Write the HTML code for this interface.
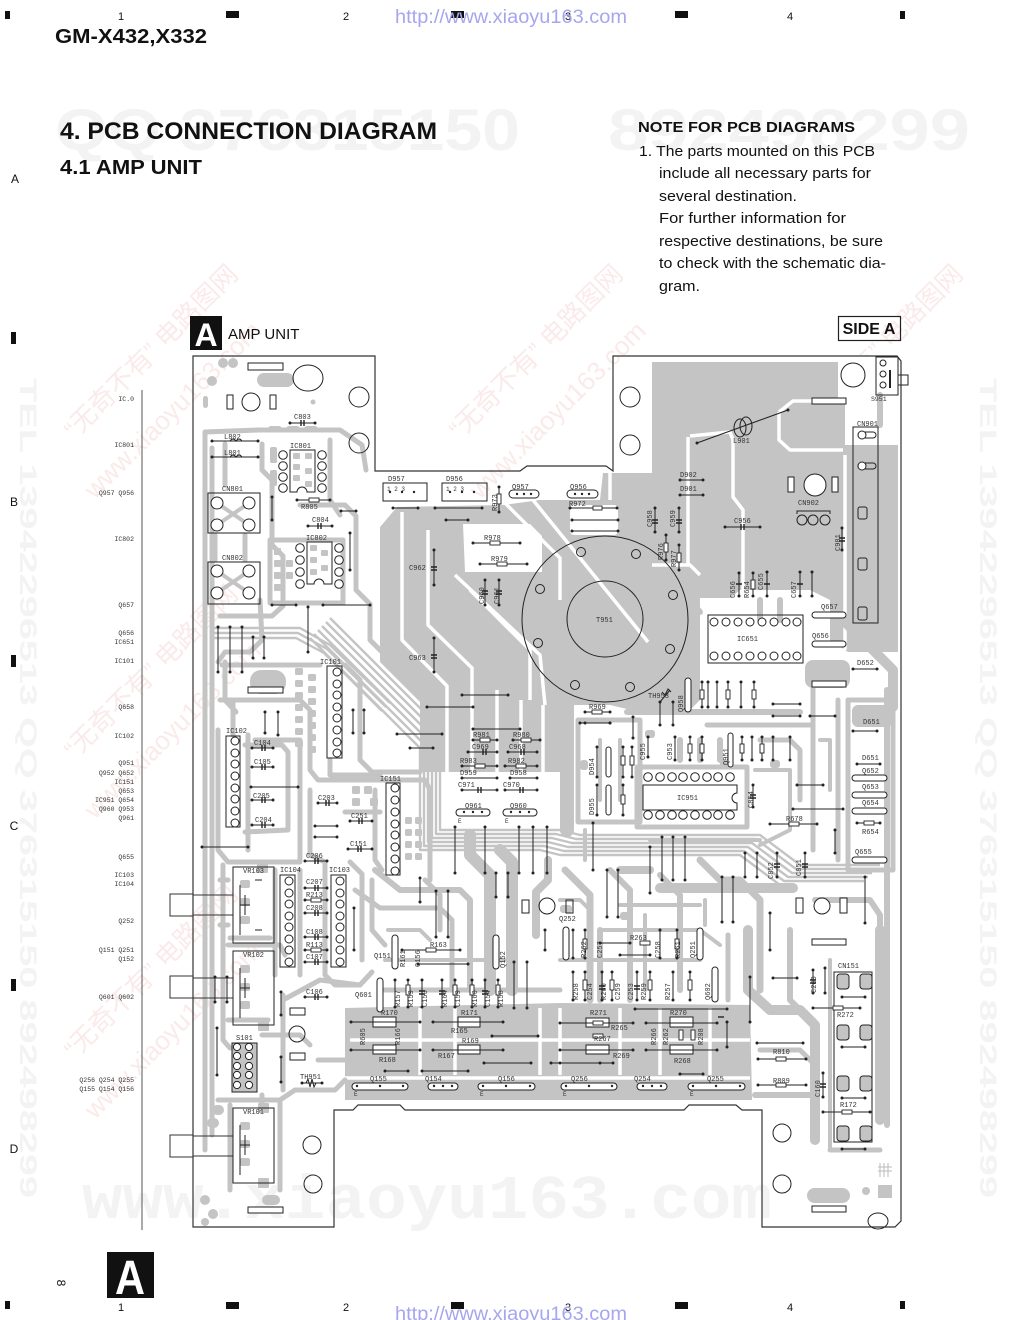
<!DOCTYPE html>
<html><head><meta charset="utf-8"><title>PCB Connection Diagram - AMP UNIT</title>
<style>
html,body{margin:0;padding:0;background:#fff;}
svg{display:block;}
</style></head><body>
<svg width="1020" height="1320" viewBox="0 0 1020 1320" xmlns="http://www.w3.org/2000/svg">
<defs>
<marker id="d" viewBox="0 0 4 4" refX="2" refY="2" markerWidth="4" markerHeight="4" markerUnits="userSpaceOnUse"><circle cx="2" cy="2" r="1.5" fill="#222"/></marker>
</defs>

<!-- faint watermarks -->
<g fill="#f3f3f3" font-family="Liberation Sans, sans-serif" font-weight="bold">
<text x="55" y="150" font-size="58" textLength="465" lengthAdjust="spacingAndGlyphs">QQ 376315150</text>
<text x="608" y="150" font-size="58" textLength="362" lengthAdjust="spacingAndGlyphs">892498299</text>
<text x="82" y="1218" font-size="62" font-family="Liberation Mono, monospace" textLength="690" lengthAdjust="spacingAndGlyphs">www.xiaoyu163.com</text>
<text transform="translate(20,378) rotate(90)" font-size="24" textLength="820" lengthAdjust="spacingAndGlyphs">TEL 13942296513  QQ 376315150  892498299</text>
<text transform="translate(980,378) rotate(90)" font-size="24" textLength="820" lengthAdjust="spacingAndGlyphs">TEL 13942296513  QQ 376315150  892498299</text>
</g>
<g fill="#fbeaea" font-family="Liberation Sans, 'Noto Sans CJK SC', sans-serif" font-size="26">
<text transform="translate(75,440) rotate(-45)">“无奇不有” 电路图网</text>
<text transform="translate(95,500) rotate(-45)">www.xiaoyu163.com</text>
<text transform="translate(75,760) rotate(-45)">“无奇不有” 电路图网</text>
<text transform="translate(95,820) rotate(-45)">www.xiaoyu163.com</text>
<text transform="translate(75,1060) rotate(-45)">“无奇不有” 电路图网</text>
<text transform="translate(95,1120) rotate(-45)">www.xiaoyu163.com</text>
<text transform="translate(460,440) rotate(-45)">“无奇不有” 电路图网</text>
<text transform="translate(480,500) rotate(-45)">www.xiaoyu163.com</text>
<text transform="translate(800,440) rotate(-45)">“无奇不有” 电路图网</text>
</g>

<!-- top ruler -->
<g fill="#111">
<rect x="5" y="11" width="5" height="8"/>
<rect x="226" y="11" width="13" height="7"/>
<rect x="451" y="11" width="13" height="7"/>
<rect x="675" y="11" width="13" height="7"/>
<rect x="900" y="11" width="5" height="8"/>
<rect x="5" y="1301" width="5" height="8"/>
<rect x="226" y="1302" width="13" height="7"/>
<rect x="451" y="1302" width="13" height="7"/>
<rect x="675" y="1302" width="13" height="7"/>
<rect x="900" y="1301" width="5" height="8"/>
<rect x="11" y="332" width="5" height="12"/>
<rect x="11" y="655" width="5" height="12"/>
<rect x="11" y="979" width="5" height="12"/>
</g>
<g font-family="Liberation Sans, sans-serif" font-size="11" fill="#111" text-anchor="middle">
<text x="121" y="20">1</text><text x="346" y="20">2</text><text x="568" y="20">3</text><text x="790" y="20">4</text>
<text x="121" y="1311">1</text><text x="346" y="1311">2</text><text x="568" y="1311">3</text><text x="790" y="1311">4</text>
<text x="15" y="183" font-size="12">A</text>
<text x="14" y="506" font-size="12">B</text>
<text x="14" y="830" font-size="12">C</text>
<text x="14" y="1153" font-size="12">D</text>
</g>
<text x="395" y="23" font-size="19" fill="#a6a6ee" textLength="232" lengthAdjust="spacingAndGlyphs" font-family="Liberation Sans Narrow, Liberation Sans, sans-serif">http://www.xiaoyu163.com</text>
<text x="395" y="1320" font-size="19" fill="#a6a6ee" textLength="232" lengthAdjust="spacingAndGlyphs" font-family="Liberation Sans Narrow, Liberation Sans, sans-serif">http://www.xiaoyu163.com</text>

<!-- headings -->
<g font-family="Liberation Sans, sans-serif" fill="#111">
<text x="55" y="43" font-size="20" font-weight="bold" textLength="152" lengthAdjust="spacingAndGlyphs">GM-X432,X332</text>
<text x="60" y="139" font-size="24" font-weight="bold" textLength="377" lengthAdjust="spacingAndGlyphs">4. PCB CONNECTION DIAGRAM</text>
<text x="60" y="174" font-size="20" font-weight="bold" textLength="142" lengthAdjust="spacingAndGlyphs">4.1 AMP UNIT</text>
<text x="638" y="132" font-size="15" font-weight="bold" textLength="217" lengthAdjust="spacingAndGlyphs">NOTE FOR PCB DIAGRAMS</text>
<g font-size="14.5">
<text x="639" y="156" textLength="236" lengthAdjust="spacingAndGlyphs">1. The parts mounted on this PCB</text>
<text x="659" y="178" textLength="212" lengthAdjust="spacingAndGlyphs">include all necessary parts for</text>
<text x="659" y="201" textLength="138" lengthAdjust="spacingAndGlyphs">several destination.</text>
<text x="659" y="223" textLength="187" lengthAdjust="spacingAndGlyphs">For further information for</text>
<text x="659" y="246" textLength="224" lengthAdjust="spacingAndGlyphs">respective destinations, be sure</text>
<text x="659" y="268" textLength="227" lengthAdjust="spacingAndGlyphs">to check with the schematic dia-</text>
<text x="659" y="291" textLength="41" lengthAdjust="spacingAndGlyphs">gram.</text>
</g>
<rect x="190" y="316" width="32" height="34" fill="#111"/>
<text x="206" y="346" font-size="32" font-weight="bold" fill="#fff" text-anchor="middle">A</text>
<text x="228" y="339" font-size="15">AMP UNIT</text>
<rect x="838.5" y="316.5" width="62" height="24" fill="none" stroke="#222" stroke-width="1.2"/>
<text x="869" y="334" font-size="16" font-weight="bold" text-anchor="middle">SIDE A</text>
<text transform="translate(57,1283) rotate(90)" font-size="12" text-anchor="middle">8</text>
<rect x="107" y="1252" width="47" height="46" fill="#111"/>
<text x="130" y="1294" font-size="48" font-weight="bold" fill="#fff" text-anchor="middle" textLength="30" lengthAdjust="spacingAndGlyphs">A</text>
</g>

<!-- left label column -->
<line x1="142" y1="390" x2="142" y2="1230" stroke="#555" stroke-width="1"/>
<g font-family="Liberation Mono, monospace" font-size="6.5" fill="#333" text-anchor="end">
<text x="134" y="401">IC.0</text>
<text x="134" y="447">IC801</text>
<text x="134" y="495">Q957  Q956</text>
<text x="134" y="541">IC802</text>
<text x="134" y="607">Q657</text>
<text x="134" y="635">Q656</text>
<text x="134" y="644">IC651</text>
<text x="134" y="663">IC101</text>
<text x="134" y="709">Q658</text>
<text x="134" y="738">IC102</text>
<text x="134" y="765">Q951</text>
<text x="134" y="775">Q952  Q652</text>
<text x="134" y="784">IC151</text>
<text x="134" y="793">Q653</text>
<text x="134" y="802">IC951  Q654</text>
<text x="134" y="811">Q960  Q953</text>
<text x="134" y="820">Q961</text>
<text x="134" y="859">Q655</text>
<text x="134" y="877">IC103</text>
<text x="134" y="886">IC104</text>
<text x="134" y="923">Q252</text>
<text x="134" y="952">Q151  Q251</text>
<text x="134" y="961">Q152</text>
<text x="134" y="999">Q601  Q602</text>
<text x="134" y="1082">Q256  Q254  Q255</text>
<text x="134" y="1091">Q155  Q154  Q156</text>
</g>

<!-- ======= GRAY COPPER FILLS ======= -->
<g fill="#c4c4c4">
<path d="M380,527 L397,507 L503,505 L540,500 L600,500 L603,473 L652,473 L652,362 L838,362 L838,398 L845,400 L845,445 L898,445 L898,652 L848,652 L830,640 L830,600 L810,590 L740,590 L722,605 L700,605 L700,700 L688,712 L640,712 L610,705 L565,705 L565,772 L420,772 L420,702 L380,662 Z"/>
<path d="M345,1008 L560,1003 L750,1005 L752,1100 L345,1100 Z"/>
<circle cx="223" cy="363" r="5"/><circle cx="233" cy="363" r="5"/><circle cx="212" cy="381" r="5"/>
<rect x="257" y="373" width="37" height="14" rx="7"/>
<rect x="203" y="396" width="5" height="12" rx="2.5"/><circle cx="313" cy="402" r="2.5"/>
<rect x="268" y="426" width="14" height="6" rx="3"/><rect x="286" y="426" width="14" height="6" rx="3"/><rect x="304" y="426" width="14" height="6" rx="3"/>
<rect x="293" y="453" width="7" height="6" rx="1"/><rect x="293" y="464" width="7" height="6" rx="1"/><rect x="293" y="475" width="7" height="6" rx="1"/>
<rect x="305" y="453" width="7" height="6" rx="1"/><rect x="305" y="468" width="7" height="6" rx="1"/><rect x="305" y="481" width="7" height="6" rx="1"/>
<rect x="270" y="447" width="7" height="16" rx="2"/><rect x="270" y="470" width="7" height="16" rx="2"/>
<rect x="310" y="545" width="7" height="6" rx="1"/><rect x="310" y="557" width="7" height="6" rx="1"/><rect x="310" y="569" width="7" height="6" rx="1"/>
<rect x="321" y="550" width="7" height="6" rx="1"/><rect x="321" y="565" width="7" height="6" rx="1"/>
<rect x="274" y="548" width="7" height="7" rx="1"/><rect x="274" y="560" width="7" height="7" rx="1"/><rect x="274" y="572" width="7" height="7" rx="1"/><rect x="274" y="584" width="7" height="7" rx="1"/>
<rect x="286" y="560" width="7" height="7" rx="1"/><rect x="286" y="572" width="7" height="7" rx="1"/>
<rect x="250" y="670" width="36" height="24" rx="11"/>
<rect x="295" y="668" width="8" height="7" rx="1.5"/><rect x="295" y="680" width="8" height="7" rx="1.5"/><rect x="295" y="692" width="8" height="7" rx="1.5"/><rect x="295" y="704" width="8" height="7" rx="1.5"/><rect x="295" y="716" width="8" height="7" rx="1.5"/><rect x="295" y="728" width="8" height="7" rx="1.5"/><rect x="295" y="740" width="8" height="7" rx="1.5"/>
<rect x="308" y="674" width="8" height="7" rx="1.5"/><rect x="308" y="686" width="8" height="7" rx="1.5"/><rect x="308" y="698" width="8" height="7" rx="1.5"/><rect x="308" y="710" width="8" height="7" rx="1.5"/><rect x="308" y="722" width="8" height="7" rx="1.5"/><rect x="308" y="734" width="8" height="7" rx="1.5"/><rect x="308" y="746" width="8" height="7" rx="1.5"/>
<rect x="405" y="817" width="7" height="7" rx="1.5"/><rect x="415" y="817" width="7" height="7" rx="1.5"/><rect x="405" y="829" width="7" height="7" rx="1.5"/><rect x="415" y="829" width="7" height="7" rx="1.5"/><rect x="405" y="841" width="7" height="7" rx="1.5"/><rect x="415" y="841" width="7" height="7" rx="1.5"/><rect x="405" y="853" width="7" height="7" rx="1.5"/><rect x="415" y="853" width="7" height="7" rx="1.5"/>
<rect x="352" y="786" width="8" height="8" rx="1.5"/><rect x="364" y="786" width="8" height="8" rx="1.5"/><rect x="352" y="798" width="8" height="8" rx="1.5"/><rect x="370" y="798" width="8" height="8" rx="1.5"/>
<rect x="257" y="862" width="11" height="11" rx="1"/>
<rect x="258" y="1021" width="11" height="10" rx="1"/>
<rect x="258" y="1103" width="11" height="10" rx="1"/>
<rect x="258" y="1178" width="11" height="10" rx="1"/>
<rect x="240" y="880" width="10" height="8" rx="2"/><rect x="240" y="898" width="10" height="8" rx="2"/><rect x="240" y="916" width="10" height="8" rx="2"/>
<rect x="240" y="965" width="10" height="8" rx="2"/><rect x="240" y="983" width="10" height="8" rx="2"/><rect x="240" y="1001" width="10" height="8" rx="2"/>
<rect x="240" y="1122" width="10" height="8" rx="2"/><rect x="240" y="1140" width="10" height="8" rx="2"/><rect x="240" y="1158" width="10" height="8" rx="2"/>
<rect x="212" y="1105" width="12" height="10" rx="5"/><rect x="207" y="1118" width="12" height="10" rx="5"/>
<circle cx="205" cy="1200" r="5"/><circle cx="213" cy="1214" r="5"/><circle cx="205" cy="1222" r="4"/>
<rect x="262" y="1195" width="18" height="10" rx="5"/>
<rect x="805" y="660" width="45" height="28" rx="8"/>
<rect x="852" y="705" width="40" height="22" rx="6"/>
<rect x="807" y="1188" width="43" height="15" rx="7.5"/>
<rect x="878" y="1185" width="14" height="13"/>
<circle cx="866" cy="1191" r="4"/>
<rect x="862" y="410" width="5" height="14" rx="2.5"/>
<rect x="837" y="974" width="12" height="15" rx="3"/><rect x="860" y="974" width="12" height="15" rx="3"/>
<rect x="837" y="1025" width="12" height="15" rx="3"/><rect x="860" y="1025" width="12" height="15" rx="3"/>
<rect x="837" y="1076" width="12" height="15" rx="3"/><rect x="860" y="1076" width="12" height="15" rx="3"/>
<rect x="837" y="1126" width="12" height="15" rx="3"/><rect x="860" y="1126" width="12" height="15" rx="3"/>
<rect x="232" y="1043" width="25" height="49" rx="2"/>
<!-- extra pads -->
<rect x="560" y="905" width="12" height="8" rx="3"/><rect x="620" y="912" width="10" height="8" rx="3"/>
<rect x="720" y="760" width="10" height="8" rx="3"/><rect x="770" y="760" width="10" height="8" rx="3"/>
<rect x="580" y="760" width="8" height="10" rx="3"/><rect x="645" y="730" width="10" height="8" rx="3"/>
</g>

<!-- white carve-outs within pours -->
<g fill="#fff">
<path d="M838,356 L902,356 L902,445 L845,445 L845,400 L838,398 Z"/>
<path d="M463,524 L530,524 L542,536 L542,572 L465,572 Z"/>
<rect x="570" y="505" width="48" height="30" rx="4"/>
<rect x="700" y="598" width="30" height="10"/>
</g>
<g fill="none" stroke="#fff" stroke-width="3.5" stroke-linejoin="round">
<path d="M533,500 L648,642"/>
<path d="M505,503 L560,558 L560,600"/>
<path d="M455,575 L540,655 L545,705"/>
<path d="M402,512 L402,640 L447,686 L447,772"/>
<path d="M428,530 L428,625 L472,668 L472,772"/>
<path d="M497,690 L497,772"/>
<path d="M521,700 L521,772"/>
<path d="M543,705 L543,772"/>
<path d="M470,590 L530,650 L530,700"/>
<path d="M688,437 L688,565"/>
<path d="M690,436 L730,432 L733,440 L733,497 L743,510 L743,592"/>
<path d="M779,412 L779,440 L790,450 L843,450"/>
<path d="M779,412 L793,401 L838,401"/>
<path d="M652,565 L690,565 L700,575"/>
<path d="M845,455 L845,650"/>
<path d="M610,470 L610,500"/>
<path d="M350,1040 L750,1040"/>
<path d="M420,1008 L420,1075"/><path d="M455,1008 L455,1075"/><path d="M540,1008 L540,1075"/>
<path d="M560,1008 L560,1075"/><path d="M620,1008 L620,1075"/><path d="M660,1008 L660,1075"/><path d="M710,1008 L710,1075"/>
<path d="M345,1078 L750,1078"/>
</g>

<!-- gray traces -->
<g fill="none" stroke="#c4c4c4" stroke-width="5" stroke-linejoin="round" stroke-linecap="round">
<path d="M205,432 L205,1150"/>
<path d="M212,448 L212,1135"/>
<path d="M205,432 L258,430 L340,430 L362,445 L366,470"/>
<path d="M225,444 L225,485"/>
<path d="M262,444 L262,470 L272,480 L272,545 L283,556 L283,606 L272,616 L220,616"/>
<path d="M300,505 L345,505 L356,516 L356,590 L370,604 L370,640 L392,662"/>
<path d="M270,540 L343,540 L343,603 L270,603 Z"/>
<path d="M215,535 L215,560 M245,535 L245,560"/>
<path d="M217,503 L233,514 L249,525 M249,503 L233,514 L217,525" stroke-width="4"/>
<path d="M217,571 L233,582 L249,593 M249,571 L233,582 L217,593" stroke-width="4"/>
<path d="M260,600 L262,640 L250,652 L225,652 L218,662"/>
<path d="M225,662 L225,700 L236,712"/>
<path d="M330,440 L330,500 L340,515"/>
<path d="M220,700 L300,700 L310,710 L310,770 L318,780 L425,780 L430,790 L430,880"/>
<path d="M218,730 L218,850 L228,862 L300,862"/>
<path d="M248,735 L248,850"/>
<path d="M345,665 L360,680 L360,760 L372,772 L420,772"/>
<path d="M275,870 L275,975"/>
<path d="M300,870 L300,975"/>
<path d="M325,862 L325,975 L335,985 L360,985"/>
<path d="M350,862 L362,874 L362,960"/>
<path d="M223,865 L223,1040 L230,1048"/>
<path d="M228,945 L280,945 L285,955"/>
<path d="M218,1100 L280,1100 L295,1090 L335,1090 L345,1080"/>
<path d="M230,1105 L230,1190"/>
<path d="M280,1100 L280,1190"/>
<path d="M283,995 L283,1090"/>
<path d="M283,1000 L320,980 L360,985 L372,972"/>
<path d="M255,740 L300,740 L300,860"/>
<path d="M310,790 L310,855 L325,862"/>
<path d="M372,880 L372,930 L385,945"/>
<path d="M425,880 L440,895 L440,930"/>
<!-- added left density -->
<path d="M233,700 L233,735"/>
<path d="M245,745 L282,745 L288,752 L288,830 L245,832"/>
<path d="M222,665 L320,665"/>
<path d="M330,760 L330,775 L380,775"/>
<path d="M375,790 L375,860 L382,870"/>
<path d="M345,812 L380,812"/>
<path d="M230,938 L270,938"/>
<path d="M262,1035 L300,1035 L310,1045"/>
<path d="M228,1020 L268,1020"/>
<path d="M262,1095 L262,1108"/>
<path d="M318,1060 L345,1060"/>
<path d="M220,880 L228,880 M220,925 L228,925"/>
<!-- middle lower bands -->
<path d="M470,835 L470,855 L490,875 L490,990" stroke-width="12"/>
<path d="M500,850 L512,862 L512,990" stroke-width="12"/>
<path d="M548,860 L548,880 L536,892 L536,935" stroke-width="8"/>
<path d="M375,870 L400,890 L460,890 L470,900 L470,990" stroke-width="6"/>
<path d="M355,890 L380,908 L440,908 L452,920 L452,990"/>
<path d="M565,870 L590,895 L590,1000" stroke-width="7"/>
<path d="M610,870 L630,890 L630,1000" stroke-width="6"/>
<path d="M660,875 L680,895 L680,990" stroke-width="6"/>
<path d="M700,860 L720,880 L740,880 L760,900 L760,990" stroke-width="7"/>
<path d="M600,930 L700,930 L720,945" stroke-width="4"/>
<path d="M560,960 L700,960" stroke-width="4"/>
<path d="M385,960 L505,960" stroke-width="4"/>
<path d="M380,990 L560,990" stroke-width="5"/>
<path d="M560,900 L580,900 L590,910" stroke-width="4"/>
<path d="M620,905 L700,905" stroke-width="4"/>
<path d="M645,915 L645,990" stroke-width="4"/>
<path d="M705,900 L705,925" stroke-width="4"/>
<path d="M620,870 L650,870" stroke-width="8"/>
<path d="M728,935 L728,1000" stroke-width="5"/>
<path d="M388,930 L420,930 L430,940" stroke-width="4"/>
<!-- right middle -->
<path d="M567,705 L567,830" stroke-width="14"/>
<path d="M578,720 L640,720 L640,822 L578,822 Z"/>
<path d="M637,767 L747,767 L747,827 L637,827 Z"/>
<path d="M627,712 L800,712" stroke-width="6"/>
<path d="M707,725 L810,725"/>
<path d="M813,670 L813,850"/>
<path d="M838,700 L838,860"/>
<path d="M848,700 L893,700 L893,870 L848,870 Z"/>
<path d="M843,620 L893,670 L893,707" stroke-width="10"/>
<path d="M887,690 L887,1125" stroke-width="6"/>
<path d="M660,888 L793,888" stroke-width="10"/>
<path d="M760,740 L790,740 L800,750 L800,800"/>
<path d="M700,740 L700,760 M720,740 L720,760 M680,740 L680,760" stroke-width="6"/>
<path d="M600,740 L600,800 M620,740 L620,800" stroke-width="4"/>
<path d="M760,620 L760,600 M780,620 L780,600" stroke-width="6"/>
<path d="M650,600 L690,600 L700,612" stroke-width="6"/>
<path d="M815,900 L870,900 L880,915 L880,960" stroke-width="6"/>
<path d="M755,770 L790,770 L790,830 L760,845" stroke-width="4"/>
<path d="M650,840 L760,840" stroke-width="4"/>
<path d="M585,830 L585,860" stroke-width="4"/>
<path d="M820,740 L830,740 L830,790" stroke-width="4"/>
<!-- right lower -->
<path d="M748,930 L748,990 L770,1010 L800,1010 L815,1025 L815,1140" stroke-width="10"/>
<path d="M600,930 L600,1000" stroke-width="6"/>
<path d="M880,930 L880,1120" stroke-width="10"/>
<path d="M830,960 L830,1150" stroke-width="4"/>
<path d="M790,930 L790,1000 L805,1015" stroke-width="6"/>
<path d="M760,1050 L800,1050 L815,1065"/>
<path d="M755,1095 L810,1095" stroke-width="6"/>
<path d="M830,1150 L880,1150"/>
<path d="M880,395 L880,425" stroke-width="6"/>
</g>

<!-- thin parallel bus -->
<g fill="none" stroke="#c4c4c4" stroke-width="2.4" stroke-linejoin="round">
<path d="M330,618 L440,728 L440,830 L560,830 L580,835 L760,835 L800,865 L880,865"/>
<path transform="translate(-4,4)" d="M330,618 L440,728 L440,830 L560,830 L580,835 L760,835 L800,865 L880,865"/>
<path transform="translate(-8,8)" d="M330,618 L440,728 L440,830 L560,830 L580,835 L760,835 L800,865 L880,865"/>
<path transform="translate(-12,12)" d="M330,618 L440,728 L440,830 L560,830 L580,835 L760,835 L800,865 L880,865"/>
<path transform="translate(-16,16)" d="M330,618 L440,728 L440,830 L560,830 L580,835 L760,835 L800,865 L880,865"/>
<path transform="translate(-20,20)" d="M330,618 L440,728 L440,830 L560,830 L580,835 L760,835 L800,865"/>
<path d="M212,628 L300,628 L330,645 L390,703 M212,633 L298,633 L327,649 L386,707 M212,638 L296,638 L324,653 L382,711"/>
</g>

<!-- ======= BOARD OUTLINE ======= -->
<path d="M193,356 L375,356 L375,471 L520,471 L527,466 L606,466 L613,471 L613,356 L897,356 L901,361 L901,1221 L895,1227 L762,1227 L762,1110 L742,1110 L736,1105 L689,1105 L684,1110 L405,1110 L400,1105 L358,1105 L353,1110 L334,1110 L334,1227 L193,1227 Z" fill="none" stroke="#333" stroke-width="1.2"/>
<g fill="none" stroke="#333" stroke-width="1">
<rect x="170" y="894" width="23" height="22"/>
<rect x="170" y="976" width="23" height="22"/>
<rect x="170" y="1135" width="23" height="22"/>
<path d="M193,895 L233,895 M193,915 L233,915 M193,978 L233,978 M193,998 L233,998 M193,1136 L233,1136 M193,1156 L233,1156"/>
</g>

<!-- ======= COMPONENT OUTLINES ======= -->
<g fill="none" stroke="#222" stroke-width="1">
<circle cx="359" cy="397" r="10"/><circle cx="359" cy="443" r="10"/>
<circle cx="630" cy="397" r="10"/><circle cx="630" cy="445" r="10"/>
<circle cx="853" cy="375" r="12"/>
<ellipse cx="308" cy="378" rx="15" ry="13"/>
<rect x="248" y="363" width="35" height="7" fill="#fff"/>
<rect x="227" y="395" width="6" height="14"/><circle cx="251" cy="402" r="9"/><rect x="270" y="395" width="6" height="14"/>
<rect x="248" y="687" width="35" height="6" fill="#fff"/>
<rect x="812" y="398" width="34" height="6" fill="#fff"/>
<rect x="812" y="681" width="34" height="6" fill="#fff"/>
<rect x="812" y="939" width="34" height="6" fill="#fff"/>
<rect x="812" y="1206" width="34" height="6" fill="#fff"/>
<rect x="248" y="1207" width="35" height="6" fill="#fff"/>
<rect x="788" y="477" width="6" height="15" fill="#fff"/><circle cx="815" cy="485" r="11" fill="#fff"/><rect x="832" y="477" width="6" height="15" fill="#fff"/>
<rect x="522" y="900" width="7" height="13"/><circle cx="547" cy="906" r="8"/><rect x="566" y="900" width="7" height="13"/>
<rect x="796" y="898" width="7" height="15" fill="#fff"/><circle cx="822" cy="906" r="8" fill="#fff"/><rect x="840" y="898" width="7" height="15" fill="#fff"/>
<rect x="290" y="1008" width="15" height="7"/><circle cx="297" cy="1034" r="8"/><rect x="290" y="1053" width="15" height="7"/>
<circle cx="312" cy="1145" r="9"/><circle cx="313" cy="1184" r="9"/>
<circle cx="782" cy="1133" r="9"/><circle cx="782" cy="1184" r="9"/>
<ellipse cx="878" cy="1221" rx="10" ry="8"/>
<path d="M880,1163 L880,1177 M884,1163 L884,1177 M888,1163 L888,1177 M878,1167 L892,1167 M878,1171 L892,1171" stroke="#bbb"/>
<rect x="876" y="357" width="22" height="38"/>
<circle cx="883" cy="363" r="3"/><circle cx="883" cy="374" r="3"/><circle cx="883" cy="385" r="3"/>
<path d="M890,370 L890,388" stroke-width="2"/>
<path d="M898,375 L908,375 L908,385 L898,385"/>
<circle cx="605" cy="619" r="83"/>
<circle cx="605" cy="619" r="38"/>
<circle cx="581" cy="552" r="4.5"/><circle cx="636" cy="554" r="4.5"/><circle cx="540" cy="589" r="4.5"/><circle cx="673" cy="595" r="4.5"/>
<circle cx="538" cy="643" r="4.5"/><circle cx="670" cy="649" r="4.5"/><circle cx="575" cy="685" r="4.5"/><circle cx="630" cy="687" r="4.5"/>
<rect x="383" y="483" width="44" height="18"/>
<rect x="442" y="483" width="45" height="18"/>
<path d="M290,450 L315,450 L315,492 L307,492 A5,5 0 0 0 297,492 L290,492 Z"/>
<path d="M307,542 L332,542 L332,584 L324,584 A5,5 0 0 0 314,584 L307,584 Z"/>
<rect x="208" y="493" width="52" height="40"/>
<rect x="208" y="562" width="52" height="42"/>
<rect x="327" y="666" width="15" height="92"/>
<rect x="226" y="736" width="14" height="91"/>
<rect x="386" y="783" width="14" height="92"/>
<rect x="280" y="875" width="15" height="92"/>
<rect x="331" y="875" width="15" height="92"/>
<rect x="233" y="867" width="41" height="76"/>
<rect x="233" y="951" width="41" height="74"/>
<rect x="233" y="1108" width="41" height="75"/>
<path d="M240,885 L240,935 M240,905 L250,905 M245,895 L245,915 M255,880 L262,880 M255,930 L262,930"/>
<path d="M240,968 L240,1018 M240,988 L250,988 M245,978 L245,998"/>
<path d="M240,1125 L240,1175 M240,1145 L250,1145 M245,1135 L245,1155"/>
<rect x="232" y="1043" width="25" height="49"/>
<rect x="708" y="615" width="95" height="48"/>
<path d="M643,785 L737,785 L737,793 A5,5 0 0 0 737,803 L737,810 L643,810 Z"/>
<rect x="853" y="427" width="25" height="196"/>
<rect x="858" y="432" width="18" height="6" rx="3"/><rect x="858" y="463" width="18" height="6" rx="3"/>
<rect x="858" y="507" width="9" height="12" rx="2"/><rect x="858" y="558" width="9" height="12" rx="2"/><rect x="858" y="607" width="9" height="13" rx="2"/>
<circle cx="802" cy="520" r="5"/><circle cx="813" cy="520" r="5"/><circle cx="825" cy="520" r="5"/>
<path d="M797,514 L797,511 L830,511 L830,514"/>
<rect x="834" y="972" width="38" height="170"/>
<rect x="837" y="974" width="12" height="15" rx="3"/><rect x="860" y="974" width="12" height="15" rx="3"/>
<rect x="837" y="1025" width="12" height="15" rx="3"/><rect x="860" y="1025" width="12" height="15" rx="3"/>
<rect x="837" y="1076" width="12" height="15" rx="3"/><rect x="860" y="1076" width="12" height="15" rx="3"/>
<rect x="837" y="1126" width="12" height="15" rx="3"/><rect x="860" y="1126" width="12" height="15" rx="3"/>
<rect x="373" y="1017" width="23" height="10" fill="#fff"/>
<rect x="458" y="1017" width="22" height="10" fill="#fff"/>
<rect x="373" y="1045" width="23" height="9" fill="#fff"/>
<rect x="458" y="1045" width="22" height="9" fill="#fff"/>
<rect x="586" y="1018" width="23" height="9" fill="#fff"/>
<rect x="670" y="1017" width="23" height="10" fill="#fff"/>
<rect x="586" y="1045" width="23" height="9" fill="#fff"/>
<rect x="670" y="1045" width="23" height="9" fill="#fff"/>
</g>

<!-- pin circles -->
<g fill="#fff" stroke="#222" stroke-width="1">
<circle cx="283" cy="455" r="4.3"/><circle cx="283" cy="466" r="4.3"/><circle cx="283" cy="477" r="4.3"/><circle cx="283" cy="488" r="4.3"/>
<circle cx="322" cy="455" r="4.3"/><circle cx="322" cy="466" r="4.3"/><circle cx="322" cy="477" r="4.3"/><circle cx="322" cy="488" r="4.3"/>
<circle cx="300" cy="548" r="4.3"/><circle cx="300" cy="560" r="4.3"/><circle cx="300" cy="572" r="4.3"/><circle cx="300" cy="584" r="4.3"/>
<circle cx="339" cy="548" r="4.3"/><circle cx="339" cy="560" r="4.3"/><circle cx="339" cy="572" r="4.3"/><circle cx="339" cy="584" r="4.3"/>
<circle cx="217" cy="503" r="6"/><circle cx="249" cy="503" r="6"/><circle cx="217" cy="525" r="6"/><circle cx="249" cy="525" r="6"/>
<circle cx="217" cy="571" r="6"/><circle cx="249" cy="571" r="6"/><circle cx="217" cy="593" r="6"/><circle cx="249" cy="593" r="6"/>
<circle cx="337" cy="672" r="4"/><circle cx="337" cy="684" r="4"/><circle cx="337" cy="695" r="4"/><circle cx="337" cy="707" r="4"/><circle cx="337" cy="718" r="4"/><circle cx="337" cy="730" r="4"/><circle cx="337" cy="742" r="4"/><circle cx="337" cy="753" r="4"/>
<circle cx="235" cy="741" r="4"/><circle cx="235" cy="753" r="4"/><circle cx="235" cy="764" r="4"/><circle cx="235" cy="776" r="4"/><circle cx="235" cy="788" r="4"/><circle cx="235" cy="799" r="4"/><circle cx="235" cy="811" r="4"/><circle cx="235" cy="823" r="4"/>
<circle cx="395" cy="788" r="4"/><circle cx="395" cy="800" r="4"/><circle cx="395" cy="812" r="4"/><circle cx="395" cy="824" r="4"/><circle cx="395" cy="835" r="4"/><circle cx="395" cy="847" r="4"/><circle cx="395" cy="859" r="4"/><circle cx="395" cy="871" r="4"/>
<circle cx="289" cy="881" r="4"/><circle cx="289" cy="893" r="4"/><circle cx="289" cy="904" r="4"/><circle cx="289" cy="916" r="4"/><circle cx="289" cy="927" r="4"/><circle cx="289" cy="939" r="4"/><circle cx="289" cy="950" r="4"/><circle cx="289" cy="962" r="4"/>
<circle cx="340" cy="881" r="4"/><circle cx="340" cy="893" r="4"/><circle cx="340" cy="904" r="4"/><circle cx="340" cy="916" r="4"/><circle cx="340" cy="927" r="4"/><circle cx="340" cy="939" r="4"/><circle cx="340" cy="950" r="4"/><circle cx="340" cy="962" r="4"/>
<circle cx="714" cy="622" r="4"/><circle cx="726" cy="622" r="4"/><circle cx="738" cy="622" r="4"/><circle cx="750" cy="622" r="4"/><circle cx="762" cy="622" r="4"/><circle cx="774" cy="622" r="4"/><circle cx="786" cy="622" r="4"/><circle cx="797" cy="622" r="4"/>
<circle cx="714" cy="656" r="4"/><circle cx="726" cy="656" r="4"/><circle cx="738" cy="656" r="4"/><circle cx="750" cy="656" r="4"/><circle cx="762" cy="656" r="4"/><circle cx="774" cy="656" r="4"/><circle cx="786" cy="656" r="4"/><circle cx="797" cy="656" r="4"/>
<circle cx="648" cy="777" r="4.3"/><circle cx="660" cy="777" r="4.3"/><circle cx="672" cy="777" r="4.3"/><circle cx="683" cy="777" r="4.3"/><circle cx="695" cy="777" r="4.3"/><circle cx="707" cy="777" r="4.3"/><circle cx="718" cy="777" r="4.3"/><circle cx="730" cy="777" r="4.3"/>
<circle cx="648" cy="815" r="4.3"/><circle cx="660" cy="815" r="4.3"/><circle cx="672" cy="815" r="4.3"/><circle cx="683" cy="815" r="4.3"/><circle cx="695" cy="815" r="4.3"/><circle cx="707" cy="815" r="4.3"/><circle cx="718" cy="815" r="4.3"/><circle cx="730" cy="815" r="4.3"/>
<circle cx="237" cy="1047" r="3.6"/><circle cx="249" cy="1047" r="3.6"/><circle cx="237" cy="1056" r="3.6"/><circle cx="249" cy="1056" r="3.6"/><circle cx="237" cy="1066" r="3.6"/><circle cx="249" cy="1066" r="3.6"/><circle cx="237" cy="1075" r="3.6"/><circle cx="249" cy="1075" r="3.6"/><circle cx="237" cy="1085" r="3.6"/><circle cx="249" cy="1085" r="3.6"/>
<circle cx="862" cy="435" r="4"/><circle cx="862" cy="466" r="4"/>
</g>

<!-- transistor ovals -->
<g fill="#fff" stroke="#222" stroke-width="1">
<rect x="509" y="490" width="30" height="8" rx="4"/>
<rect x="567" y="490" width="31" height="8" rx="4"/>
<rect x="456" y="809" width="34" height="7" rx="3.5"/>
<rect x="503" y="809" width="34" height="7" rx="3.5"/>
<rect x="352" y="1083" width="56" height="7" rx="3.5"/>
<rect x="428" y="1083" width="30" height="7" rx="3.5"/>
<rect x="478" y="1083" width="57" height="7" rx="3.5"/>
<rect x="561" y="1083" width="56" height="7" rx="3.5"/>
<rect x="637" y="1083" width="30" height="7" rx="3.5"/>
<rect x="688" y="1083" width="57" height="7" rx="3.5"/>
<rect x="812" y="641" width="34" height="6" rx="3"/>
<rect x="812" y="612" width="34" height="6" rx="3"/>
<rect x="852" y="775" width="35" height="6" rx="3"/>
<rect x="852" y="792" width="35" height="6" rx="3"/>
<rect x="852" y="808" width="35" height="6" rx="3"/>
<rect x="852" y="857" width="35" height="6" rx="3"/>
<rect x="392" y="935" width="6" height="34" rx="3"/>
<rect x="493" y="935" width="6" height="34" rx="3"/>
<rect x="377" y="978" width="6" height="34" rx="3"/>
<rect x="563" y="927" width="6" height="33" rx="3"/>
<rect x="697" y="928" width="6" height="32" rx="3"/>
<rect x="712" y="967" width="6" height="35" rx="3"/>
<rect x="685" y="678" width="6" height="34" rx="3"/>
<rect x="728" y="733" width="5" height="34" rx="2.5"/>
<rect x="606" y="747" width="5" height="30" rx="2.5"/>
<rect x="606" y="785" width="5" height="30" rx="2.5"/>
</g>
<g fill="#222">
<circle cx="517" cy="494" r="1.2"/><circle cx="524" cy="494" r="1.2"/><circle cx="531" cy="494" r="1.2"/>
<circle cx="575" cy="494" r="1.2"/><circle cx="582" cy="494" r="1.2"/><circle cx="589" cy="494" r="1.2"/>
<circle cx="464" cy="812" r="1.2"/><circle cx="473" cy="812" r="1.2"/><circle cx="482" cy="812" r="1.2"/>
<circle cx="511" cy="812" r="1.2"/><circle cx="520" cy="812" r="1.2"/><circle cx="529" cy="812" r="1.2"/>
<circle cx="357" cy="1086" r="1.2"/><circle cx="380" cy="1086" r="1.2"/><circle cx="403" cy="1086" r="1.2"/>
<circle cx="434" cy="1086" r="1.2"/><circle cx="443" cy="1086" r="1.2"/><circle cx="452" cy="1086" r="1.2"/>
<circle cx="483" cy="1086" r="1.2"/><circle cx="506" cy="1086" r="1.2"/><circle cx="530" cy="1086" r="1.2"/>
<circle cx="566" cy="1086" r="1.2"/><circle cx="589" cy="1086" r="1.2"/><circle cx="612" cy="1086" r="1.2"/>
<circle cx="643" cy="1086" r="1.2"/><circle cx="652" cy="1086" r="1.2"/><circle cx="661" cy="1086" r="1.2"/>
<circle cx="693" cy="1086" r="1.2"/><circle cx="716" cy="1086" r="1.2"/><circle cx="740" cy="1086" r="1.2"/>
<circle cx="390" cy="492" r="1.2"/><circle cx="402" cy="492" r="1.2"/><circle cx="414" cy="492" r="1.2"/>
<circle cx="450" cy="492" r="1.2"/><circle cx="462" cy="492" r="1.2"/><circle cx="474" cy="492" r="1.2"/>
</g>

<!-- jumpers / component leads -->
<g fill="none" stroke="#222" stroke-width="1" marker-start="url(#d)" marker-end="url(#d)">
<path d="M212,441 L258,441"/><path d="M212,457 L258,457"/>
<path d="M290,423 L315,423"/><path d="M297,500 L330,500"/><path d="M308,526 L332,526"/>
<path d="M272,497 L272,520"/><path d="M341,511 L356,511"/><path d="M350,533 L350,570"/>
<path d="M272,605 L296,605"/><path d="M323,605 L370,605"/><path d="M308,607 L308,652"/>
<path d="M218,627 L218,672"/><path d="M230,627 L230,672"/><path d="M242,627 L242,672"/>
<path d="M253,637 L253,658"/><path d="M264,637 L264,658"/>
<path d="M393,508 L418,508"/><path d="M435,508 L482,508"/><path d="M446,520 L468,520"/>
<path d="M499,487 L499,512"/><path d="M473,543 L520,543"/><path d="M480,564 L527,564"/>
<path d="M434,550 L434,585"/><path d="M434,638 L434,672"/>
<path d="M485,580 L485,605"/><path d="M499,580 L499,605"/>
<path d="M570,508 L617,508"/><path d="M572,520 L618,520"/><path d="M572,531 L618,531"/>
<path d="M462,695 L508,695"/><path d="M427,707 L473,707"/>
<path d="M585,712 L610,712"/><path d="M585,723 L610,723"/>
<path d="M697,443 L788,410"/>
<path d="M680,480 L703,480"/><path d="M680,495 L703,495"/>
<path d="M655,508 L655,532"/><path d="M679,508 L679,532"/>
<path d="M666,535 L666,560"/><path d="M679,545 L679,570"/>
<path d="M725,527 L760,527"/><path d="M842,528 L842,550"/>
<path d="M739,573 L739,596"/><path d="M753,573 L753,596"/><path d="M767,572 L767,596"/><path d="M800,572 L800,596"/><path d="M812,572 L812,596"/>
<path d="M660,702 L660,725"/><path d="M673,702 L673,725"/><path d="M633,717 L633,738"/>
<path d="M702,682 L702,707"/><path d="M708,682 L708,707"/><path d="M717,682 L717,707"/><path d="M728,682 L728,707"/><path d="M741,682 L741,707"/><path d="M754,682 L754,707"/>
<path d="M773,704 L800,704"/><path d="M773,716 L800,716"/><path d="M810,716 L835,716"/>
<path d="M580,723 L610,723"/>
<path d="M597,747 L597,777"/><path d="M623,747 L623,777"/><path d="M632,747 L632,777"/><path d="M648,737 L648,757"/>
<path d="M597,785 L597,815"/><path d="M623,785 L623,815"/>
<path d="M675,737 L675,760"/><path d="M690,737 L690,760"/><path d="M702,737 L702,760"/><path d="M742,737 L742,760"/><path d="M752,737 L752,760"/><path d="M762,737 L762,760"/><path d="M773,737 L773,760"/><path d="M790,737 L790,760"/>
<path d="M593,823 L593,870"/><path d="M607,870 L607,917"/><path d="M618,870 L618,917"/>
<path d="M650,847 L650,893"/><path d="M662,837 L662,880"/><path d="M673,837 L673,880"/><path d="M685,837 L685,880"/>
<path d="M770,824 L817,824"/><path d="M793,809 L843,809"/><path d="M797,785 L823,785"/><path d="M753,785 L753,807"/>
<path d="M777,853 L777,877"/><path d="M805,853 L805,877"/><path d="M745,853 L745,877"/><path d="M757,853 L757,877"/>
<path d="M835,830 L835,853"/><path d="M722,877 L722,922"/><path d="M733,877 L733,922"/>
<path d="M770,913 L770,950"/><path d="M865,877 L865,923"/>
<path d="M853,731 L877,731"/><path d="M857,764 L880,764"/><path d="M857,823 L880,823"/><path d="M853,669 L877,669"/>
<path d="M265,712 L265,733"/><path d="M278,712 L278,735"/>
<path d="M251,787 L298,787"/><path d="M315,826 L337,826"/><path d="M315,837 L337,837"/><path d="M202,847 L248,847"/>
<path d="M353,710 L353,733"/><path d="M364,710 L364,733"/>
<path d="M397,734 L442,734"/><path d="M410,748 L433,748"/><path d="M473,729 L520,729"/>
<path d="M252,748 L273,748"/><path d="M252,767 L273,767"/><path d="M252,800 L273,800"/><path d="M252,825 L273,825"/>
<path d="M318,803 L337,803"/><path d="M350,821 L372,821"/><path d="M348,849 L372,849"/>
<path d="M473,740 L497,740"/><path d="M513,740 L540,740"/><path d="M468,752 L497,752"/><path d="M508,752 L537,752"/>
<path d="M462,766 L497,766"/><path d="M505,766 L537,766"/><path d="M462,778 L497,778"/><path d="M510,778 L537,778"/><path d="M462,790 L497,790"/><path d="M505,790 L537,790"/>
<path d="M455,827 L455,873"/><path d="M485,827 L485,873"/><path d="M519,827 L519,873"/><path d="M533,827 L533,873"/><path d="M547,827 L547,873"/>
<path d="M496,873 L496,897"/><path d="M508,873 L508,897"/>
<path d="M420,878 L420,902"/><path d="M436,891 L436,937"/><path d="M448,891 L448,937"/>
<path d="M354,908 L354,950"/><path d="M545,930 L545,950"/>
<path d="M305,861 L327,861"/><path d="M305,888 L327,888"/><path d="M305,900 L327,900"/><path d="M305,913 L327,913"/><path d="M305,937 L327,937"/><path d="M305,950 L327,950"/><path d="M305,962 L327,962"/>
<path d="M215,977 L215,1002"/><path d="M227,977 L227,1002"/>
<path d="M217,1028 L217,1075"/><path d="M281,992 L281,1015"/><path d="M281,1057 L281,1082"/>
<path d="M305,997 L327,997"/>
<path d="M514,962 L514,1008"/><path d="M527,962 L527,1008"/>
<path d="M351,1022 L420,1022"/><path d="M433,1022 L503,1022"/><path d="M351,1050 L420,1050"/><path d="M433,1050 L503,1050"/>
<path d="M492,1036 L538,1036"/><path d="M484,1063 L531,1063"/><path d="M551,1063 L600,1063"/>
<path d="M385,1071 L408,1071"/><path d="M422,1071 L468,1071"/>
<path d="M395,980 L395,1007"/><path d="M408,980 L408,1007"/><path d="M422,980 L422,1007"/><path d="M442,980 L442,1007"/><path d="M455,980 L455,1007"/><path d="M472,980 L472,1007"/><path d="M485,980 L485,1007"/><path d="M498,980 L498,1007"/>
<path d="M402,950 L430,950"/><path d="M432,950 L460,950"/><path d="M418,964 L468,964"/>
<path d="M635,1009 L727,1009"/>
<path d="M560,1023 L633,1023"/><path d="M646,1023 L717,1023"/><path d="M560,1050 L633,1050"/><path d="M646,1050 L717,1050"/>
<path d="M727,1022 L727,1047"/><path d="M750,977 L750,1022"/><path d="M773,978 L797,978"/><path d="M757,1043 L803,1043"/>
<path d="M560,1063 L613,1063"/><path d="M680,1074 L703,1074"/>
<path d="M813,970 L813,993"/><path d="M825,968 L825,993"/><path d="M813,1008 L860,1008"/>
<path d="M842,997 L865,997"/><path d="M842,1047 L865,1047"/><path d="M842,1098 L865,1098"/><path d="M842,1149 L865,1149"/>
<path d="M823,1073 L823,1097"/><path d="M823,1112 L870,1112"/>
<path d="M758,1059 L806,1059"/><path d="M758,1085 L806,1085"/>
<path d="M573,972 L573,1000"/><path d="M585,972 L585,1000"/><path d="M602,972 L602,1000"/><path d="M612,972 L612,1000"/><path d="M637,972 L637,1000"/><path d="M650,972 L650,1000"/><path d="M673,972 L673,1000"/><path d="M690,972 L690,1000"/>
<path d="M573,930 L573,958"/><path d="M585,930 L585,958"/><path d="M600,943 L630,943"/><path d="M620,955 L650,955"/><path d="M660,930 L660,958"/><path d="M677,930 L677,958"/>
<path d="M302,1083 L322,1083"/>
</g>

<!-- small resistor / capacitor bodies -->
<g fill="#fff" stroke="#222" stroke-width="0.9">
<rect x="309" y="498" width="10" height="4"/>
<rect x="490" y="541" width="10" height="4"/><rect x="497" y="562" width="10" height="4"/>
<rect x="497" y="494" width="4" height="10"/>
<rect x="593" y="506" width="9" height="4"/>
<rect x="592" y="710" width="10" height="4"/>
<rect x="664" y="543" width="4" height="9"/><rect x="677" y="553" width="4" height="9"/>
<rect x="751" y="580" width="4" height="9"/>
<rect x="700" y="690" width="4" height="9"/><rect x="726" y="690" width="4" height="9"/><rect x="752" y="690" width="4" height="9"/>
<rect x="621" y="756" width="4" height="9"/><rect x="630" y="756" width="4" height="9"/><rect x="621" y="795" width="4" height="9"/>
<rect x="688" y="744" width="4" height="9"/><rect x="700" y="744" width="4" height="9"/><rect x="740" y="744" width="4" height="9"/><rect x="760" y="744" width="4" height="9"/>
<rect x="789" y="822" width="10" height="4"/><rect x="864" y="821" width="10" height="4"/>
<rect x="480" y="738" width="10" height="4"/><rect x="521" y="738" width="10" height="4"/>
<rect x="475" y="764" width="10" height="4"/><rect x="516" y="764" width="10" height="4"/>
<rect x="311" y="898" width="10" height="4"/><rect x="311" y="948" width="10" height="4"/>
<rect x="426" y="948" width="10" height="4"/>
<rect x="593" y="1021" width="10" height="4"/><rect x="593" y="1034" width="10" height="4"/>
<rect x="640" y="941" width="10" height="4"/>
<rect x="776" y="1057" width="10" height="4"/><rect x="776" y="1083" width="10" height="4"/>
<rect x="833" y="1006" width="10" height="4"/><rect x="842" y="1110" width="10" height="4"/>
<rect x="406" y="985" width="4" height="10"/><rect x="453" y="985" width="4" height="10"/><rect x="470" y="985" width="4" height="10"/><rect x="496" y="985" width="4" height="10"/>
<rect x="583" y="980" width="4" height="10"/><rect x="610" y="980" width="4" height="10"/><rect x="648" y="980" width="4" height="10"/><rect x="688" y="980" width="4" height="10"/>
<rect x="583" y="939" width="4" height="10"/><rect x="675" y="939" width="4" height="10"/>
<rect x="679" y="1030" width="4" height="10"/><rect x="691" y="1030" width="4" height="10"/>
</g>
<g stroke="#222" stroke-width="1.4">
<path d="M301,420 L301,426 M304,420 L304,426"/>
<path d="M318,523 L318,529 M321,523 L321,529"/>
<path d="M431,567 L437,567 M431,570 L437,570"/><path d="M431,655 L437,655 M431,658 L437,658"/>
<path d="M482,591 L488,591 M482,594 L488,594"/><path d="M496,591 L502,591 M496,594 L502,594"/>
<path d="M652,520 L658,520 M652,523 L658,523"/><path d="M676,520 L682,520 M676,523 L682,523"/>
<path d="M741,524 L741,530 M744,524 L744,530"/>
<path d="M839,538 L845,538 M839,541 L845,541"/>
<path d="M736,584 L742,584 M764,584 L770,584 M797,584 L803,584"/>
<path d="M262,745 L262,751 M265,745 L265,751"/><path d="M262,764 L262,770 M265,764 L265,770"/>
<path d="M262,797 L262,803 M265,797 L265,803"/><path d="M262,822 L262,828 M265,822 L265,828"/>
<path d="M326,800 L326,806 M329,800 L329,806"/><path d="M359,818 L359,824 M362,818 L362,824"/><path d="M358,846 L358,852 M361,846 L361,852"/>
<path d="M315,858 L315,864 M318,858 L318,864"/><path d="M315,885 L315,891 M318,885 L318,891"/><path d="M315,910 L315,916 M318,910 L318,916"/><path d="M315,934 L315,940 M318,934 L318,940"/><path d="M315,959 L315,965 M318,959 L318,965"/><path d="M315,994 L315,1000 M318,994 L318,1000"/>
<path d="M483,749 L483,755 M486,749 L486,755"/><path d="M521,749 L521,755 M524,749 L524,755"/>
<path d="M478,787 L478,793 M481,787 L481,793"/><path d="M520,787 L520,793 M523,787 L523,793"/>
<path d="M774,864 L780,864 M774,867 L780,867"/><path d="M802,864 L808,864 M802,867 L808,867"/>
<path d="M750,795 L756,795 M750,798 L756,798"/>
<path d="M810,980 L816,980 M810,983 L816,983"/><path d="M820,1084 L826,1084 M820,1087 L826,1087"/>
<path d="M419,991 L425,991 M419,994 L425,994"/><path d="M439,991 L445,991 M439,994 L445,994"/><path d="M482,991 L488,991 M482,994 L488,994"/>
<path d="M599,986 L605,986 M599,989 L605,989"/><path d="M634,986 L640,986 M634,989 L640,989"/>
<path d="M718,1017 L724,1017"/>
</g>
<g fill="none" stroke="#222" stroke-width="1">
<ellipse cx="740" cy="428" rx="6" ry="9"/><ellipse cx="746" cy="426" rx="6" ry="9"/>
<path d="M230,441 q3,-4 6,0 q3,-4 6,0"/><path d="M230,457 q3,-4 6,0 q3,-4 6,0"/>
<path d="M302,1083 l4,0 l2,-4 l2,8 l2,-8 l2,8 l2,-4 l4,0"/>
<path d="M660,702 l10,-12 M662,692 l3,3 l3,-6 l3,3"/>
</g>

<!-- ======= LABELS ======= -->
<g font-family="Liberation Mono, monospace" font-size="7" fill="#333">
<text x="294" y="419">C803</text><text x="224" y="439">L802</text><text x="224" y="455">L801</text>
<text x="290" y="448">IC801</text><text x="222" y="491">CN801</text><text x="222" y="560">CN802</text>
<text x="301" y="509">R805</text><text x="312" y="522">C804</text><text x="306" y="540">IC802</text>
<text x="388" y="481">D957</text><text x="446" y="481">D956</text>
<text x="387" y="491" font-size="6">1 2 3</text><text x="446" y="491" font-size="6">1 2 3</text>
<text x="512" y="489">Q957</text><text x="570" y="489">Q956</text><text x="569" y="506">R972</text>
<text transform="translate(497,511) rotate(-90)">R973</text>
<text x="484" y="540">R978</text><text x="491" y="561">R979</text>
<text x="409" y="570">C962</text><text x="409" y="660">C963</text>
<text transform="translate(484,604) rotate(-90)">C960</text><text transform="translate(499,604) rotate(-90)">C961</text>
<text x="596" y="622">T951</text>
<text x="871" y="401" font-size="6.5">S951</text><text x="857" y="426">CN901</text>
<text x="733" y="443">L901</text><text x="680" y="477">D902</text><text x="680" y="491">D901</text>
<text x="798" y="505">CN902</text><text x="734" y="523">C956</text>
<text transform="translate(652,527) rotate(-90)">C958</text><text transform="translate(675,527) rotate(-90)">C959</text>
<text transform="translate(663,560) rotate(-90)">R976</text><text transform="translate(676,567) rotate(-90)">R977</text>
<text transform="translate(840,551) rotate(-90)">C981</text>
<text transform="translate(735,598) rotate(-90)">C656</text><text transform="translate(749,598) rotate(-90)">R654</text>
<text transform="translate(763,590) rotate(-90)">C655</text><text transform="translate(796,598) rotate(-90)">C657</text>
<text x="821" y="609">Q657</text><text x="737" y="641">IC651</text><text x="812" y="638">Q656</text>
<text x="857" y="665">D652</text><text x="648" y="698">TH953</text>
<text transform="translate(683,712) rotate(-90)">Q958</text><text x="589" y="709">R969</text>
<text x="863" y="724">D651</text><text x="862" y="760">D651</text>
<text x="862" y="773">Q652</text><text x="862" y="789">Q653</text><text x="862" y="805">Q654</text>
<text x="862" y="834">R654</text><text x="855" y="854">Q655</text><text x="786" y="821">R678</text>
<text x="677" y="800">IC951</text>
<text transform="translate(773,879) rotate(-90)">C852</text><text transform="translate(801,876) rotate(-90)">C851</text>
<text transform="translate(753,808) rotate(-90)">C854</text>
<text transform="translate(594,775) rotate(-90)">D954</text><text transform="translate(594,815) rotate(-90)">D955</text>
<text transform="translate(645,760) rotate(-90)">C955</text><text transform="translate(672,760) rotate(-90)">C953</text>
<text transform="translate(728,765) rotate(-90)">Q951</text>
<text x="320" y="664">IC101</text><text x="226" y="733">IC102</text>
<text x="254" y="745">C104</text><text x="254" y="764">C105</text><text x="253" y="798">C205</text><text x="255" y="822">C204</text>
<text x="318" y="800">C203</text><text x="351" y="818">C251</text><text x="350" y="846">C151</text><text x="380" y="781">IC151</text>
<text x="306" y="858">C206</text><text x="306" y="884">C207</text><text x="306" y="897">R213</text><text x="306" y="910">C208</text>
<text x="306" y="934">C108</text><text x="306" y="947">R113</text><text x="306" y="959">C107</text><text x="306" y="994">C106</text>
<text x="243" y="873">VR103</text><text x="243" y="957">VR102</text><text x="243" y="1114">VR101</text>
<text x="280" y="872">IC104</text><text x="329" y="872">IC103</text><text x="236" y="1040">S101</text>
<text x="300" y="1079">TH951</text><text x="355" y="997">Q601</text>
<text x="473" y="737">R981</text><text x="513" y="737">R980</text><text x="472" y="749">C969</text><text x="509" y="749">C968</text>
<text x="460" y="763">R983</text><text x="508" y="763">R982</text><text x="460" y="775">D959</text><text x="510" y="775">D958</text>
<text x="458" y="787">C971</text><text x="503" y="787">C970</text><text x="465" y="808">Q961</text><text x="510" y="808">Q960</text>
<text x="458" y="823" font-size="6">E</text><text x="505" y="823" font-size="6">E</text>
<text x="559" y="921">Q252</text><text x="374" y="958">Q151</text><text x="430" y="947">R163</text>
<text transform="translate(405,967) rotate(-90)">R161</text><text transform="translate(420,967) rotate(-90)">C156</text>
<text transform="translate(505,968) rotate(-90)">Q152</text>
<text transform="translate(400,1007) rotate(-90)">R157</text><text transform="translate(413,1007) rotate(-90)">R159</text><text transform="translate(427,1007) rotate(-90)">C153</text>
<text transform="translate(447,1007) rotate(-90)">R164</text><text transform="translate(460,1007) rotate(-90)">C159</text><text transform="translate(477,1007) rotate(-90)">R160</text>
<text transform="translate(490,1007) rotate(-90)">C154</text><text transform="translate(503,1007) rotate(-90)">R158</text>
<text x="381" y="1015">R170</text><text x="461" y="1015">R171</text><text x="451" y="1033">R165</text><text x="462" y="1043">R169</text>
<text x="438" y="1058">R167</text><text x="379" y="1062">R168</text>
<text transform="translate(365,1045) rotate(-90)">R605</text><text transform="translate(400,1045) rotate(-90)">R166</text>
<text x="370" y="1081">Q155</text><text x="425" y="1081">Q154</text><text x="498" y="1081">Q156</text>
<text x="571" y="1081">Q256</text><text x="634" y="1081">Q254</text><text x="707" y="1081">Q255</text>
<text x="354" y="1096" font-size="6">E</text><text x="480" y="1096" font-size="6">E</text><text x="563" y="1096" font-size="6">E</text><text x="690" y="1096" font-size="6">E</text>
<text x="590" y="1015">R271</text><text x="670" y="1015">R270</text><text x="611" y="1030">R265</text><text x="594" y="1041">R267</text>
<text x="613" y="1058">R269</text><text x="674" y="1063">R268</text>
<text transform="translate(656,1045) rotate(-90)">R266</text><text transform="translate(668,1045) rotate(-90)">R262</text><text transform="translate(703,1045) rotate(-90)">R208</text>
<text x="773" y="1054">R810</text><text x="773" y="1083">R809</text>
<text x="838" y="968">CN151</text><text x="837" y="1017">R272</text><text x="840" y="1107">R172</text>
<text transform="translate(816,993) rotate(-90)">C260</text><text transform="translate(820,1097) rotate(-90)">C160</text>
<text x="630" y="940">R263</text>
<text transform="translate(586,958) rotate(-90)">R262</text><text transform="translate(602,958) rotate(-90)">C257</text>
<text transform="translate(660,958) rotate(-90)">C258</text><text transform="translate(680,958) rotate(-90)">R261</text><text transform="translate(695,958) rotate(-90)">Q251</text>
<text transform="translate(578,1000) rotate(-90)">R258</text><text transform="translate(592,1000) rotate(-90)">C254</text><text transform="translate(606,1000) rotate(-90)">R260</text>
<text transform="translate(620,1000) rotate(-90)">C259</text><text transform="translate(633,1000) rotate(-90)">C253</text><text transform="translate(646,1000) rotate(-90)">R259</text>
<text transform="translate(670,1000) rotate(-90)">R257</text><text transform="translate(710,1000) rotate(-90)">Q602</text>
</g>
</svg>
</body></html>
